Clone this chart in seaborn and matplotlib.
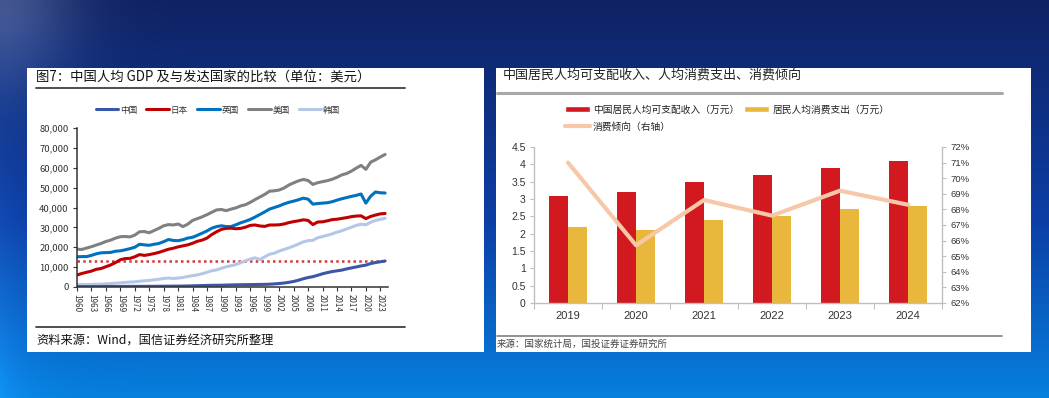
import numpy as np
import pandas as pd
import matplotlib
matplotlib.use("Agg")
import matplotlib.pyplot as plt
import seaborn as sns
from matplotlib.patches import Rectangle, Patch
from matplotlib.lines import Line2D
from matplotlib.ticker import FuncFormatter

# ---------------- data: left chart (GDP per capita, USD) ----------------
gdp_years = list(range(1960, 2025))
gdp_china = [0.25, 0.20, 0.20, 0.20, 0.22, 0.25, 0.27, 0.25, 0.24, 0.26,
             0.30, 0.30, 0.31, 0.33, 0.33, 0.35, 0.34, 0.36, 0.39, 0.41,
             0.44, 0.45, 0.48, 0.52, 0.59, 0.66, 0.71, 0.78, 0.85, 0.87,
             0.89, 0.96, 1.04, 1.10, 1.13, 1.16, 1.20, 1.25, 1.28, 1.32,
             1.40, 1.55, 1.75, 2.00, 2.35, 2.80, 3.40, 4.15, 4.75, 5.20,
             5.90, 6.65, 7.25, 7.75, 8.15, 8.50, 9.10, 9.60, 10.10, 10.60,
             11.00, 11.80, 12.30, 12.70, 13.10]
gdp_japan = [6.0, 6.8, 7.4, 8.0, 8.9, 9.3, 10.2, 11.1, 12.3, 13.7,
             14.3, 14.4, 15.2, 16.3, 15.9, 16.3, 16.8, 17.4, 18.2, 19.0,
             19.5, 20.2, 20.7, 21.2, 22.0, 23.0, 23.6, 24.6, 26.4, 27.8,
             29.0, 29.5, 29.6, 29.3, 29.5, 30.1, 31.0, 31.2, 30.7, 30.5,
             31.2, 31.2, 31.3, 31.7, 32.4, 32.9, 33.3, 33.8, 33.5, 31.4,
             32.7, 32.8, 33.3, 33.9, 34.1, 34.5, 34.9, 35.4, 35.7, 35.8,
             34.4, 35.5, 36.2, 36.8, 37.0]
gdp_uk = [15.2, 15.3, 15.3, 15.9, 16.7, 17.2, 17.3, 17.4, 18.0, 18.2,
          18.7, 19.3, 20.0, 21.5, 21.2, 21.0, 21.5, 21.9, 22.8, 23.9,
          23.4, 23.3, 23.8, 24.6, 25.0, 26.0, 27.1, 28.2, 29.6, 30.4,
          30.8, 30.4, 30.4, 31.3, 32.3, 33.1, 34.0, 35.2, 36.5, 37.8,
          39.2, 40.0, 40.8, 41.8, 42.6, 43.2, 43.9, 44.7, 44.2, 41.7,
          42.0, 42.2, 42.4, 42.9, 43.7, 44.4, 45.0, 45.6, 46.1, 46.8,
          42.2, 45.7, 47.8, 47.4, 47.3]
gdp_us = [19.0, 18.9, 19.6, 20.3, 21.1, 21.9, 22.9, 23.6, 24.6, 25.3,
          25.4, 25.2, 26.1, 27.8, 27.9, 27.3, 28.4, 29.5, 30.8, 31.4,
          31.2, 31.7, 30.4, 31.6, 33.5, 34.4, 35.3, 36.4, 37.6, 38.8,
          39.0, 38.4, 39.2, 39.8, 40.8, 41.4, 42.6, 44.0, 45.3, 46.6,
          48.2, 48.4, 48.8, 49.8, 51.3, 52.4, 53.4, 54.1, 53.6, 51.6,
          52.5, 53.0, 53.5, 54.2, 55.2, 56.4, 57.1, 58.3, 59.8, 61.2,
          59.2, 62.8, 64.0, 65.4, 66.7]
gdp_korea = [1.2, 1.2, 1.2, 1.3, 1.4, 1.4, 1.6, 1.7, 1.9, 2.1,
             2.3, 2.5, 2.6, 2.9, 3.1, 3.3, 3.6, 3.9, 4.3, 4.5,
             4.3, 4.5, 4.8, 5.3, 5.7, 6.1, 6.7, 7.4, 8.2, 8.6,
             9.4, 10.2, 10.7, 11.3, 12.2, 13.2, 14.0, 14.7, 13.8, 15.2,
             16.5, 17.0, 18.1, 18.9, 19.7, 20.6, 21.6, 22.7, 23.3, 23.5,
             24.8, 25.4, 26.0, 26.7, 27.6, 28.3, 29.2, 30.1, 31.0, 31.6,
             31.3, 32.6, 33.5, 34.0, 34.6]
countries = ["中国", "日本", "英国", "美国", "韩国"]
country_colors = ["#3A56A8", "#C00000", "#0070C0", "#808080", "#B4C7E7"]
income_threshold = 13100
gdp_yticks = [0, 10000, 20000, 30000, 40000, 50000, 60000, 70000, 80000]
gdp_xticks = list(range(1960, 2024, 3))

# ---------------- data: right chart ----------------
years = [2019, 2020, 2021, 2022, 2023, 2024]
income = [3.1, 3.2, 3.5, 3.7, 3.9, 4.1]
consume = [2.2, 2.1, 2.4, 2.5, 2.7, 2.8]
propensity = [71.0, 65.7, 68.6, 67.6, 69.2, 68.3]
bar_series = ["中国居民人均可支配收入（万元）", "居民人均消费支出（万元）"]
line_series = "消费倾向（右轴）"
bar_colors = ["#D2191F", "#E9B73C"]
line_color = "#F7C8A8"
left_yticks = [0, 0.5, 1, 1.5, 2, 2.5, 3, 3.5, 4, 4.5]
right_yticks = [62, 63, 64, 65, 66, 67, 68, 69, 70, 71, 72]

# ---------------- figure ----------------
sns.set_theme(style="white")
plt.rcParams["font.family"] = ["Noto Sans CJK SC", "DejaVu Sans"]

W, H = 1049, 398
fig = plt.figure(figsize=(W / 100, H / 100), dpi=100)


def fx(x):
    return x / W


def fy(y):
    return 1 - y / H


# background gradient
bg = fig.add_axes([0, 0, 1, 1])
bg.set_axis_off()
yy = np.linspace(0, 1, H)[:, None, None]
xx = np.linspace(0, 1, W)[None, :, None]
c_top = np.array([16, 34, 98]) / 255
c_mid = np.array([12, 62, 165]) / 255
c_bot = np.array([6, 128, 222]) / 255
t1 = np.clip(yy / 0.55, 0, 1)
t2 = np.clip((yy - 0.55) / 0.45, 0, 1)
img = c_top * (1 - t1) + c_mid * t1
img = img * (1 - t2) + c_bot * t2
edge = np.exp(-xx / 0.025) * yy
img = img + edge * np.array([0.04, 0.08, 0.10])
corner = np.exp(-(xx / 0.07) ** 2 - (yy / 0.22) ** 2)
img = img + corner * np.array([0.20, 0.20, 0.18])
img = np.clip(img * np.ones((H, W, 3)), 0, 1)
bg.imshow(img, extent=[0, 1, 0, 1], aspect="auto", transform=bg.transAxes)
bg.set_xlim(0, 1)
bg.set_ylim(0, 1)

# white panels
bg.add_patch(Rectangle((fx(27), fy(352)), fx(484) - fx(27), fy(68) - fy(352),
                       facecolor="white", edgecolor="none", transform=bg.transAxes))
bg.add_patch(Rectangle((fx(496), fy(352)), fx(1031) - fx(496), fy(68) - fy(352),
                       facecolor="white", edgecolor="none", transform=bg.transAxes))
# rules
bg.add_line(Line2D([fx(36), fx(405)], [fy(88), fy(88)], color="#404040", lw=1.3, transform=bg.transAxes))
bg.add_line(Line2D([fx(36), fx(405)], [fy(327), fy(327)], color="#404040", lw=1.3, transform=bg.transAxes))
bg.add_line(Line2D([fx(497), fx(1002)], [fy(93), fy(93)], color="#A8A8A8", lw=2.2, transform=bg.transAxes))
bg.add_line(Line2D([fx(497), fx(1002)], [fy(336), fy(336)], color="#808080", lw=1.2, transform=bg.transAxes))

# titles / sources
fig.text(fx(36), fy(77), "图7：中国人均 GDP 及与发达国家的比较（单位：美元）",
         fontsize=9.6, color="#111111", va="center", ha="left")
fig.text(fx(36), fy(341), "资料来源：Wind，国信证券经济研究所整理",
         fontsize=8.8, color="#111111", va="center", ha="left")
fig.text(fx(503), fy(75), "中国居民人均可支配收入、人均消费支出、消费倾向",
         fontsize=9.4, color="#222222", va="center", ha="left")
fig.text(fx(497), fy(344), "来源：国家统计局，国投证券证券研究所",
         fontsize=6.8, color="#444444", va="center", ha="left", style="italic")

# ---------------- left chart ----------------
axL = fig.add_axes([fx(77), fy(287), fx(388) - fx(77), fy(128) - fy(287)])
axL.set_facecolor("white")
series_vals = [gdp_china, gdp_japan, gdp_uk, gdp_us, gdp_korea]
df = pd.DataFrame({
    "year": gdp_years * len(countries),
    "gdp": np.concatenate([np.array(v) * 1000 for v in series_vals]),
    "country": np.repeat(countries, len(gdp_years)),
})
draw_order = ["美国", "英国", "日本", "韩国", "中国"]
pal = dict(zip(countries, country_colors))
sns.lineplot(data=df, x="year", y="gdp", hue="country", hue_order=draw_order,
             palette=pal, linewidth=2.2, legend=False, ax=axL, estimator=None)
axL.axhline(income_threshold, color="#D0393B", lw=1.8, ls=(0, (1, 1.3)), zorder=1)
axL.set_xlim(1960, 2024.6)
axL.set_ylim(0, 80000)
axL.set_yticks(gdp_yticks)
axL.yaxis.set_major_formatter(FuncFormatter(lambda v, p: f"{int(v):,}"))
axL.set_xticks(gdp_xticks)
axL.set_xticklabels([str(y) for y in gdp_xticks], rotation=270)
axL.set_xlabel("")
axL.set_ylabel("")
for s in ["top", "right"]:
    axL.spines[s].set_visible(False)
for s in ["left", "bottom"]:
    axL.spines[s].set_color("#333333")
    axL.spines[s].set_linewidth(1.1)
axL.tick_params(axis="y", labelsize=6.8, colors="#333333", length=3, width=0.8, direction="out", left=True, pad=3)
axL.tick_params(axis="x", labelsize=5.8, colors="#333333", length=3, width=0.8, direction="out", bottom=True, pad=2)
axL.grid(False)

handlesL = [Line2D([0], [0], color=pal[c], lw=2.2) for c in countries]
fig.legend(handlesL, countries, loc="center", bbox_to_anchor=(fx(218), fy(110)),
           ncol=5, frameon=False, fontsize=6.2, handlelength=2.6, handletextpad=0.2,
           columnspacing=1.1, labelcolor="#333333")

# ---------------- right chart ----------------
axR = fig.add_axes([fx(534), fy(303), fx(942) - fx(534), fy(147) - fy(303)])
axR.set_facecolor("white")
dfb = pd.DataFrame({
    "year": years * 2,
    "value": income + consume,
    "series": [bar_series[0]] * len(years) + [bar_series[1]] * len(years),
})
sns.barplot(data=dfb, x="year", y="value", hue="series", hue_order=bar_series,
            palette=bar_colors, saturation=1, width=0.56, ax=axR, legend=False,
            edgecolor="none")
axR.set_xlim(-0.5, len(years) - 0.5)
axR.set_ylim(0, 4.5)
axR.set_yticks(left_yticks)
axR.set_yticklabels([f"{v:g}" for v in left_yticks], family="Liberation Sans")
axR.set_xlabel("")
axR.set_ylabel("")
axR.set_xticks(np.arange(-0.5, len(years), 1.0), minor=True)
axR.tick_params(axis="x", which="major", length=0, labelsize=8, colors="#333333", pad=6)
axR.tick_params(axis="x", which="minor", length=4, width=0.8, color="#BFBFBF", direction="out", bottom=True)
axR.tick_params(axis="y", length=3, width=0.8, color="#BFBFBF", labelsize=7.5, labelcolor="#333333",
                direction="out", left=True, pad=3)
for lbl in axR.get_xticklabels():
    lbl.set_family("Liberation Sans")
axR.spines["top"].set_visible(False)
axR.spines["right"].set_visible(False)
for s in ["left", "bottom"]:
    axR.spines[s].set_color("#BFBFBF")
    axR.spines[s].set_linewidth(1.0)
axR.grid(False)

ax2 = axR.twinx()
sns.lineplot(x=np.arange(len(years)), y=propensity, ax=ax2, color=line_color, linewidth=3)
ax2.set_ylim(62, 72)
ax2.set_yticks(right_yticks)
ax2.set_yticklabels([f"{v}%" for v in right_yticks], family="Liberation Sans")
ax2.tick_params(axis="y", length=3, width=0.8, color="#BFBFBF", labelsize=6.8, labelcolor="#333333",
                direction="out", right=True, pad=3)
for s in ["top", "left", "bottom"]:
    ax2.spines[s].set_visible(False)
ax2.spines["right"].set_color("#BFBFBF")
ax2.spines["right"].set_linewidth(1.0)
ax2.set_ylabel("")
ax2.grid(False)

handlesR = [Patch(facecolor=bar_colors[0]), Line2D([0], [0], color=line_color, lw=3),
            Patch(facecolor=bar_colors[1])]
labelsR = [bar_series[0], line_series, bar_series[1]]
fig.legend(handlesR, labelsR, loc="upper left", bbox_to_anchor=(fx(556), fy(96)),
           ncol=2, frameon=False, fontsize=7, handlelength=2.6, handleheight=0.55,
           handletextpad=0.3, columnspacing=0.5, labelspacing=0.7, labelcolor="#222222")

fig.savefig("out.png", dpi=100)
